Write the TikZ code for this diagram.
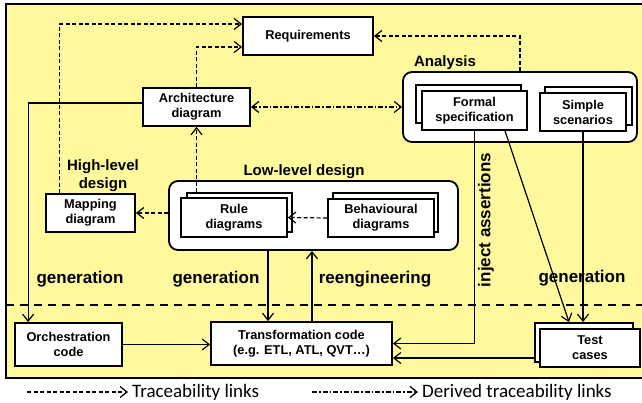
\documentclass[tikz,border=0pt]{standalone}
\usepackage{fontspec}
\setmainfont{Liberation Sans}
\newfontfamily\legfont{Carlito}
\usetikzlibrary{arrows.meta}
\definecolor{bgyellow}{RGB}{255,249,157}
\tikzset{
  box/.style={draw, line width=1.8pt, fill=white, inner sep=0pt, align=center,
    font=\fontsize{12.8}{15}\selectfont\bfseries},
  cont/.style={draw, line width=1.8pt, fill=white, rounded corners=9pt, inner sep=0pt},
  sect/.style={font=\fontsize{15}{18}\selectfont\bfseries, align=center, inner sep=0pt},
  big/.style={font=\fontsize{17}{20}\selectfont\bfseries, inner sep=0pt},
  tip/.style={-{Straight Barb[length=7pt,width=11pt,line width=1.2pt]}},
  trace/.style={line width=1.2pt, dash pattern=on 4pt off 2.5pt, tip},
  derived/.style={line width=1.2pt, dash pattern=on 5pt off 2pt on 1.5pt off 2pt,
    {Straight Barb[length=7pt,width=11pt,line width=1.2pt]}-{Straight Barb[length=7pt,width=11pt,line width=1.2pt]}},
  flow/.style={line width=1.2pt, tip},
  legtext/.style={font=\fontsize{19}{22}\selectfont\legfont, anchor=west, inner sep=0pt},
}
\begin{document}
\begin{tikzpicture}[x=1pt,y=-1pt]
\useasboundingbox (0,0) rectangle (642,403);
\clip (0,0) rectangle (642,403);
\fill[white] (0,0) rectangle (642,403);
% background
\draw[line width=1.8pt, fill=bgyellow] (6,4) rectangle (648,378);
\draw[line width=2pt, dash pattern=on 8pt off 6pt] (6,305) -- (642,305);

% labels under lines
\node[big] (gen3) at (582,278) {generation};

% containers
\node[cont, minimum width=234pt, minimum height=70pt] (ana) at (520,107) {};
\node[sect] (analab) at (445,63) {Analysis};
\node[cont, minimum width=289pt, minimum height=69pt] (low) at (313.5,215.5) {};
\node[sect] (lowlab) at (304,172) {Low-level design};
\node[sect] (highlab) at (103,176) {High-level\\design};

% boxes
\node[box, minimum width=130pt, minimum height=38pt] (req) at (308,36) {Requirements};
\node[box, minimum width=107pt, minimum height=38pt] (arch) at (196.5,107) {Architecture\\diagram};
\node[box, minimum width=105pt, minimum height=38pt] (fb) at (468.5,104) {};
\node[box, minimum width=105pt, minimum height=39pt] (ff) at (474.5,110.5) {Formal\\specification};
\node[box, minimum width=87pt, minimum height=38pt] (sb) at (588.5,106) {};
\node[box, minimum width=86pt, minimum height=38pt] (sf) at (583,112) {Simple\\scenarios};
\node[box, minimum width=105pt, minimum height=39pt] (rb) at (239.5,212.5) {};
\node[box, minimum width=106pt, minimum height=39pt] (rf) at (234,217.5) {Rule\\diagrams};
\node[box, minimum width=105pt, minimum height=39pt] (bb) at (385.5,212.5) {};
\node[box, minimum width=106pt, minimum height=38pt] (bf) at (381,218) {Behavioural\\diagrams};
\node[box, minimum width=89pt, minimum height=38pt] (map) at (90.5,213) {Mapping\\diagram};
\node[box, minimum width=107pt, minimum height=43pt] (orch) at (68.5,344.5) {Orchestration\\code};
\node[box, minimum width=181pt, minimum height=43pt] (trans) at (301.5,343.5) {Transformation code\\(e.g. ETL, ATL, QVT\ldots)};
\node[box, minimum width=98pt, minimum height=39pt] (tb) at (584,342.5) {};
\node[box, minimum width=100pt, minimum height=38pt] (tf) at (590,348) {Test\\cases};

% labels
\node[big] (gen1) at (80,279) {generation};
\node[big] (gen2) at (216,279) {generation};
\node[big] (reeng) at (375,279) {reengineering};
\node[big, rotate=90] (inject) at (486,220) {inject assertions};

% traceability links
\draw[trace] ([xshift=14pt]map.north west) |- ([yshift=12pt]req.west);
\draw[trace] (arch.north) |- ([yshift=-11pt]req.west);
\draw[trace] (ana.north) |- (req.east);
\draw[derived] (arch.east) -- (ana.west);
\draw[trace] (arch.south |- rb.north) -- (arch.south);
\draw[trace] (bf.west) -- (rf.east);
\draw[trace] (low.west |- map.east) -- (map.east);

% flows
\draw[flow] ([yshift=4pt]arch.west) -| ([xshift=14pt]orch.north west);
\draw[flow] (orch.east) -- (orch.east -| trans.west);
\draw[flow] ([xshift=-33.5pt]trans.north |- low.south) -- ([xshift=-33.5pt]trans.north);
\draw[flow] ([xshift=10.5pt]trans.north) -- ([xshift=10.5pt]trans.north |- low.south);
\draw[flow] (ff.south) |- (trans.east);
\draw[flow] ([yshift=-15.5pt]tb.west) -- ([yshift=-15.5pt]tb.west -| trans.east);
\draw[flow] ([xshift=30.5pt]ff.south) -- ([xshift=-15pt]tb.north);
\draw[flow] (sf.south) -- (sf.south |- tb.north);

% legend
\coordinate (l1a) at (27,392);
\coordinate (l1b) at (128,392);
\coordinate (l2a) at (312,392);
\coordinate (l2b) at (418,392);
\draw[trace] (l1a) -- (l1b);
\node[legtext] (lt1) at (132,392) {Traceability links};
\draw[line width=1.2pt, dash pattern=on 5pt off 2pt on 1.5pt off 2pt, tip] (l2a) -- (l2b);
\node[legtext] (lt2) at (422,392) {Derived traceability links};
\end{tikzpicture}
\end{document}
